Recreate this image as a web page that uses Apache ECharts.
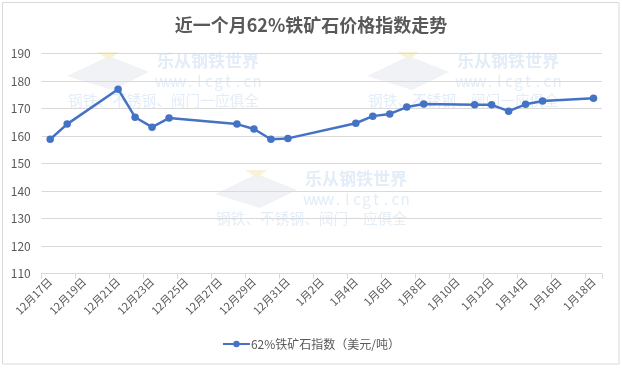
<!DOCTYPE html>
<html>
<head>
<meta charset="utf-8">
<script src="https://cdn.jsdelivr.net/npm/echarts@6/dist/echarts.min.js"></script>
<style>
html,body{margin:0;padding:0;background:#fff;}
#c{width:622px;height:369px;}
</style>
</head>
<body>
<div id="c"></div>
<script>
var categories = ['12月17日','12月18日','12月19日','12月20日','12月21日','12月22日','12月23日','12月24日','12月25日','12月26日','12月27日','12月28日','12月29日','12月30日','12月31日',
  '1月1日','1月2日','1月3日','1月4日','1月5日','1月6日','1月7日','1月8日','1月9日','1月10日','1月11日','1月12日','1月13日','1月14日','1月15日','1月16日','1月17日','1月18日'];
var indexValues = [158.9,164.4,null,null,177.1,166.9,163.3,166.6,null,null,null,164.4,162.6,158.9,159.2,
  null,null,null,164.7,167.3,168.1,170.6,171.7,null,null,171.4,171.4,169.1,171.6,172.8,null,null,173.8];
var seriesName = '62%铁矿石指数（美元/吨）';
var titleText = '近一个月62%铁矿石价格指数走势';
var wmTitle = '乐从钢铁世界';
var wmUrl = 'www.lcgt.cn';
var wmSlogan = '钢铁、不锈钢、阀门一应俱全';

var FONT = '"Noto Sans CJK SC", "Noto Sans", sans-serif';
var WM = '#e3edf8';

function watermark(x, y) {
  var els = [];
  els.push({type:'polygon', silent:true, z:-10, shape:{points:[[x-90,y+24],[x-48,y+4],[x-8,y+20],[x-45,y+38]]}, style:{fill:'#f0f2f5'}});
  els.push({type:'polygon', silent:true, z:-10, shape:{points:[[x-60,y],[x-38,y],[x-48,y+8]]}, style:{fill:'#f8f2d8'}});
  els.push({type:'text', silent:true, z:-9, x:x, y:y, style:{text:wmTitle, font:'bold 17px ' + FONT, fill:WM, textVerticalAlign:'top'}});
  for (var i = 0; i < wmUrl.length; i++) {
    els.push({type:'text', silent:true, z:-9, x:x + 4 + i*9.6, y:y + 22, style:{text:wmUrl[i], font:'15px ' + FONT, fill:WM, textAlign:'center', textVerticalAlign:'top'}});
  }
  els.push({type:'text', silent:true, z:-9, x:x - 89, y:y + 41, style:{text:wmSlogan, font:'14.7px ' + FONT, fill:WM, textVerticalAlign:'top'}});
  return els;
}

var graphics = [{type:'rect', silent:true, z:-20, shape:{x:2.5, y:2.5, width:616.5, height:361.5}, style:{fill:'#fff', stroke:'#d9d9d9', lineWidth:1}}]
  .concat(watermark(157,52)).concat(watermark(457,52)).concat(watermark(305,170));

var chart = echarts.init(document.getElementById('c'), null, {renderer:'canvas'});
chart.setOption({
  animation:false,
  backgroundColor:'#fff',
  textStyle:{fontFamily:FONT},
  title:{text:titleText, left:'center', top:11, textStyle:{fontSize:18, fontWeight:'bold', color:'#595959', fontFamily:FONT}},
  graphic:graphics,
  grid:{left:41.7, right:20, top:53.7, bottom:95.3, containLabel:false},
  legend:{bottom:14, left:'center', itemWidth:27, itemHeight:8, itemGap:10,
    textStyle:{fontSize:12, color:'#595959', fontFamily:FONT, padding:[0,0,0,-4]},
    data:[seriesName]},
  xAxis:{type:'category', data:categories, boundaryGap:true,
    axisLine:{lineStyle:{color:'#d9d9d9', width:1}},
    axisTick:{show:true, interval:1, length:5, lineStyle:{color:'#d9d9d9'}},
    axisLabel:{interval:1, rotate:45, fontSize:11, color:'#595959', margin:6, fontFamily:FONT}},
  yAxis:{type:'value', min:110, max:190, interval:10,
    axisLine:{show:false}, axisTick:{show:false},
    splitLine:{lineStyle:{color:'#d9d9d9', width:1}},
    axisLabel:{fontSize:12, color:'#595959', margin:11, fontFamily:FONT}},
  series:[{name:seriesName, type:'line', data:indexValues, connectNulls:true,
    symbol:'circle', symbolSize:7.5, showSymbol:true,
    lineStyle:{color:'#4472c4', width:2.5},
    itemStyle:{color:'#4472c4'}}]
});
</script>
</body>
</html>
